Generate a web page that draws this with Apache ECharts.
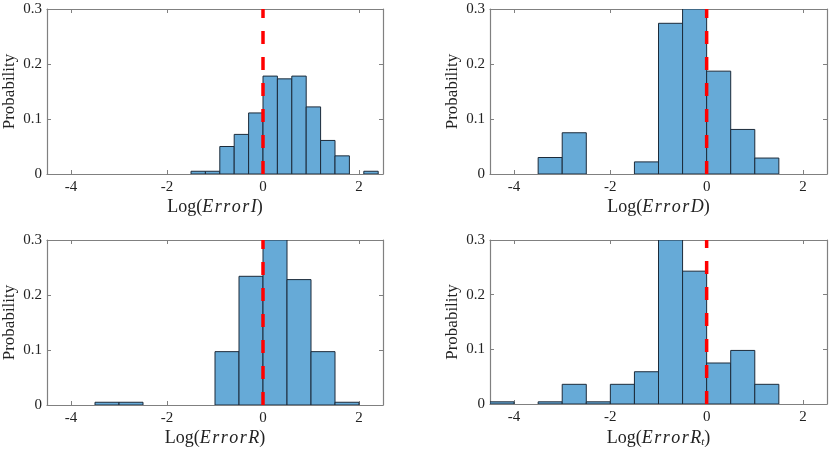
<!DOCTYPE html>
<html>
<head>
<meta charset="utf-8">
<script src="https://cdn.jsdelivr.net/npm/echarts@6/dist/echarts.min.js"></script>
<style>
html,body{margin:0;padding:0;background:#fff;}
#main{width:829px;height:449px;}
</style>
</head>
<body>
<div id="main"></div>
<script>
// ---- data (bin edges and probabilities) ----
const errorI_edges = [-1.5,-1.2,-0.9,-0.6,-0.3,0,0.3,0.6,0.9,1.2,1.5,1.8,2.1,2.4];
const errorI_prob  = [0.005,0.005,0.050,0.072,0.111,0.178,0.173,0.178,0.122,0.061,0.033,0,0.005];

const errorD_edges = [-3.5,-3,-2.5,-2,-1.5,-1,-0.5,0,0.5,1,1.5];
const errorD_prob  = [0.030,0.075,0,0,0.022,0.274,0.300,0.187,0.081,0.029];

const errorR_edges = [-3.5,-3,-2.5,-2,-1.5,-1,-0.5,0,0.5,1,1.5,2];
const errorR_prob  = [0.005,0.005,0,0,0,0.097,0.234,0.300,0.228,0.097,0.005];

const errorRt_edges = [-4.5,-4,-3.5,-3,-2.5,-2,-1.5,-1,-0.5,0,0.5,1,1.5];
const errorRt_prob  = [0.004,0,0.004,0.036,0.004,0.036,0.059,0.300,0.243,0.075,0.098,0.036];

const xTicks = [-4,-2,0,2];
const yTicks = [0,0.1,0.2,0.3];
const xRange = [-4.5,2.5];
const yRange = [0,0.3];
const refLineX = 0;

const H = '\u200A'; // hair space: math-italic letter spacing
const xNames = [
  '{n|Log(}{i|E'+H+'r'+H+'r'+H+'o'+H+'r'+H+'I}{n|)}',
  '{n|Log(}{i|E'+H+'r'+H+'r'+H+'o'+H+'r'+H+'D}{n|)}',
  '{n|Log(}{i|E'+H+'r'+H+'r'+H+'o'+H+'r'+H+'R}{n|)}',
  '{n|Log(}{i|E'+H+'r'+H+'r'+H+'o'+H+'r'+H+'R}{s|t}{n|)}'
];
const panels = [
  [errorI_edges, errorI_prob],
  [errorD_edges, errorD_prob],
  [errorR_edges, errorR_prob],
  [errorRt_edges, errorRt_prob]
];

// ---- layout / style ----
const FONT = 'Liberation Serif';
const AXIS_COLOR = '#808080';
const gridPos = [
  {left:46, top:9, width:337, height:165},
  {left:490, top:9, width:337, height:165},
  {left:46, top:240, width:337, height:165},
  {left:490, top:240, width:337, height:165}
];

const grids = [], xAxes = [], yAxes = [], series = [];
panels.forEach((p, k) => {
  grids.push(Object.assign({containLabel:false}, gridPos[k]));
  const tickCommon = {show:true, inside:true, length:4, lineStyle:{color:AXIS_COLOR, width:1}};
  xAxes.push({
    type:'value', gridIndex:k, position:'bottom', min:xRange[0], max:xRange[1],
    axisLine:{show:true, onZero:false, lineStyle:{color:AXIS_COLOR, width:1.2}},
    axisTick:Object.assign({customValues:xTicks}, tickCommon),
    axisLabel:{customValues:xTicks, color:'#222', fontFamily:FONT, fontSize:15, margin:6},
    splitLine:{show:false},
    name:xNames[k], nameLocation:'middle', nameGap:24,
    nameTextStyle:{
      fontFamily:FONT,
      rich:{
        n:{fontFamily:FONT, fontSize:18, color:'#222'},
        i:{fontFamily:FONT, fontSize:18, fontStyle:'italic', color:'#222'},
        s:{fontFamily:FONT, fontSize:11, fontStyle:'italic', color:'#222', padding:[9,0,0,0]}
      }
    }
  });
  xAxes.push({
    type:'value', gridIndex:k, position:'top', min:xRange[0], max:xRange[1],
    axisLine:{show:true, onZero:false, lineStyle:{color:AXIS_COLOR, width:1.2}},
    axisTick:Object.assign({customValues:xTicks}, tickCommon),
    axisLabel:{show:false}, splitLine:{show:false}
  });
  yAxes.push({
    type:'value', gridIndex:k, position:'left', min:yRange[0], max:yRange[1],
    axisLine:{show:true, onZero:false, lineStyle:{color:AXIS_COLOR, width:1.2}},
    axisTick:Object.assign({customValues:yTicks}, tickCommon),
    axisLabel:{customValues:yTicks, color:'#222', fontFamily:FONT, fontSize:15, margin:5,
      formatter:v => v === 0 ? '0' : v.toFixed(1)},
    splitLine:{show:false},
    name:'Probability', nameLocation:'middle', nameGap:29,
    nameTextStyle:{fontFamily:FONT, fontSize:17, color:'#222'}
  });
  yAxes.push({
    type:'value', gridIndex:k, position:'right', min:yRange[0], max:yRange[1],
    axisLine:{show:true, onZero:false, lineStyle:{color:AXIS_COLOR, width:1.2}},
    axisTick:Object.assign({customValues:yTicks}, tickCommon),
    axisLabel:{show:false}, splitLine:{show:false}
  });

  const edges = p[0], prob = p[1];
  const data = [];
  for (let i = 0; i < prob.length; i++) {
    if (prob[i] > 0) data.push([edges[i], edges[i+1], prob[i]]);
  }
  series.push({
    type:'custom', xAxisIndex:2*k, yAxisIndex:2*k, clip:true, z:2,
    encode:{x:[0,1], y:2},
    data:data,
    renderItem:function(params, api){
      const p0 = api.coord([api.value(0), api.value(2)]);
      const p1 = api.coord([api.value(1), 0]);
      return {
        type:'rect',
        shape:{x:p0[0], y:p0[1], width:p1[0]-p0[0], height:p1[1]-p0[1]},
        style:{fill:'#66AAD7', stroke:'#1c2b3a', lineWidth:1}
      };
    }
  });
  series.push({
    type:'line', xAxisIndex:2*k, yAxisIndex:2*k, z:5, symbol:'none', silent:true,
    data:[[refLineX, yRange[0]],[refLineX, yRange[1]]],
    lineStyle:{color:'#FF0000', width:3.5, type:[13,13]}
  });
});

const chart = echarts.init(document.getElementById('main'), null, {renderer:'canvas'});
chart.setOption({
  animation:false,
  backgroundColor:'#ffffff',
  textStyle:{fontFamily:FONT},
  grid:grids, xAxis:xAxes, yAxis:yAxes, series:series
});
</script>
</body>
</html>
